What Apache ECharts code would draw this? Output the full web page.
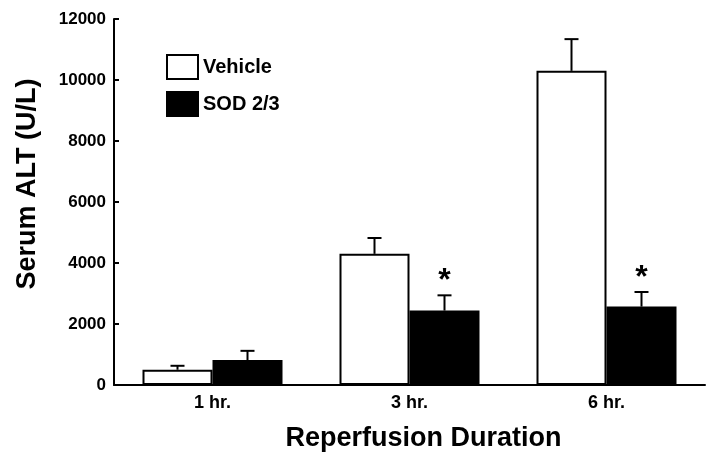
<!DOCTYPE html>
<html>
<head>
<meta charset="utf-8">
<script src="https://cdn.jsdelivr.net/npm/echarts@6/dist/echarts.min.js"></script>
<style>
  html, body { margin: 0; padding: 0; background: #fff; }
  #main { width: 714px; height: 458px; }
</style>
</head>
<body>
<div id="main"></div>
<script>
// values
var categories = ['1 hr.', '3 hr.', '6 hr.'];
var vehicle = [500, 4300, 10300];
var vehicleErr = [130, 520, 1040];
var sod = [820, 2440, 2570];
var sodErr = [300, 500, 480];
var sodSig = [false, true, true];
var yTicks = [0, 2000, 4000, 6000, 8000, 10000, 12000];

var BAR_W = 70;
var FONT = '"Liberation Sans", Arial, sans-serif';

var myChart = echarts.init(document.getElementById('main'));

// error bar rows: [category index, mean, sem, side (-1 vehicle / +1 sod), star]
var errRows = [];
categories.forEach(function (c, i) {
    errRows.push([i, vehicle[i], vehicleErr[i], -1, 0]);
    errRows.push([i, sod[i], sodErr[i], 1, sodSig[i] ? 1 : 0]);
});

function renderErr(params, api) {
    var idx = api.value(0);
    var mean = api.value(1);
    var err = api.value(2);
    var side = api.value(3);
    var x = api.coord([idx, 0])[0] + side * BAR_W / 2;
    var yTop = api.coord([idx, mean])[1];
    var yCap = api.coord([idx, mean + err])[1];
    var style = { stroke: '#000', lineWidth: 2 };
    var children = [
        { type: 'line', shape: { x1: x, y1: yTop, x2: x, y2: yCap }, style: style },
        { type: 'line', shape: { x1: x - 7, y1: yCap, x2: x + 7, y2: yCap }, style: style }
    ];
    if (api.value(4)) {
        children.push({
            type: 'text',
            style: {
                text: '*', x: x, y: yCap - 14,
                fill: '#000', font: 'bold 32px ' + FONT,
                align: 'center', verticalAlign: 'middle'
            }
        });
    }
    return { type: 'group', children: children };
}

myChart.setOption({
    animation: false,
    backgroundColor: '#fff',
    textStyle: { fontFamily: FONT },
    grid: { left: 114, right: 9, top: 19, bottom: 73, outerBoundsMode: 'none', containLabel: false },
    legend: {
        orient: 'vertical',
        left: 161,
        top: 49,
        itemWidth: 31,
        itemHeight: 24,
        itemGap: 11,
        icon: 'rect',
        data: ['Vehicle', 'SOD 2/3'],
        textStyle: { fontSize: 20, fontWeight: 'bold', color: '#000', fontFamily: FONT }
    },
    xAxis: {
        type: 'category',
        data: categories,
        name: 'Reperfusion Duration',
        nameLocation: 'middle',
        nameGap: 40,
        nameTextStyle: {
            fontSize: 27, fontWeight: 'bold', color: '#000', fontFamily: FONT,
            padding: [0, 0, 0, 28]
        },
        axisLine: { lineStyle: { color: '#000', width: 2 } },
        axisTick: { show: false },
        axisLabel: { fontSize: 18, fontWeight: 'bold', color: '#000', margin: 9, fontFamily: FONT }
    },
    yAxis: {
        type: 'value',
        min: yTicks[0],
        max: yTicks[yTicks.length - 1],
        interval: 2000,
        name: 'Serum ALT (U/L)',
        nameLocation: 'middle',
        nameGap: 73,
        nameTextStyle: {
            fontSize: 27, fontWeight: 'bold', color: '#000', fontFamily: FONT,
            padding: [0, 0, 0, 36]
        },
        axisLine: { show: true, lineStyle: { color: '#000', width: 2 } },
        axisTick: { show: true, inside: true, length: 5, lineStyle: { color: '#000', width: 2 } },
        axisLabel: {
            fontSize: 17, fontWeight: 'bold', color: '#000', margin: 8, fontFamily: FONT,
            formatter: function (v) { return String(v); }
        },
        splitLine: { show: false }
    },
    series: [
        {
            name: 'Vehicle',
            type: 'bar',
            data: vehicle,
            barWidth: BAR_W,
            barGap: '0%',
            itemStyle: { color: '#fff', borderColor: '#000', borderWidth: 2 }
        },
        {
            name: 'SOD 2/3',
            type: 'bar',
            data: sod,
            barWidth: BAR_W,
            itemStyle: { color: '#000', borderColor: '#000', borderWidth: 2 }
        },
        {
            type: 'custom',
            renderItem: renderErr,
            data: errRows,
            encode: { x: 0, y: 1 },
            z: 5,
            silent: true
        }
    ]
});
</script>
</body>
</html>
